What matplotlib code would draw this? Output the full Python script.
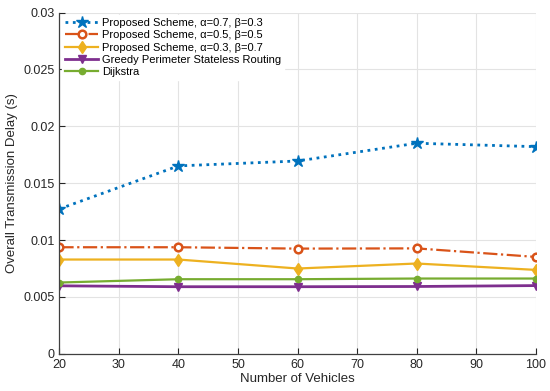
import matplotlib
matplotlib.use("Agg")
import matplotlib.pyplot as plt

plt.rcParams['font.family'] = ['Liberation Sans', 'DejaVu Sans']

vehicles = [20, 40, 60, 80, 100]
s1 = [0.01274, 0.01652, 0.01695, 0.01851, 0.01821]
s2 = [0.00937, 0.00937, 0.00925, 0.00927, 0.00852]
s3 = [0.00829, 0.00829, 0.00750, 0.00794, 0.00738]
gpsr = [0.00598, 0.00590, 0.00590, 0.00592, 0.00600]
dijkstra = [0.00627, 0.00656, 0.00656, 0.00662, 0.00662]

labels = ["Proposed Scheme, α=0.7, β=0.3",
          "Proposed Scheme, α=0.5, β=0.5",
          "Proposed Scheme, α=0.3, β=0.7",
          "Greedy Perimeter Stateless Routing",
          "Dijkstra"]
yticks = [0, 0.005, 0.01, 0.015, 0.02, 0.025, 0.03]
yticklabels = ["0", "0.005", "0.01", "0.015", "0.02", "0.025", "0.03"]
xticks = [20, 30, 40, 50, 60, 70, 80, 90, 100]

fig = plt.figure(figsize=(5.5, 3.91), dpi=100)
ax = fig.add_axes([0.108, 0.095, 0.866, 0.873])

ax.plot(vehicles, s1, linestyle=':', color='#0072BD', lw=2, marker='*', ms=9,
        label=labels[0])
ax.plot(vehicles, s2, linestyle='-.', color='#D95319', lw=1.6, marker='o', ms=5.5,
        mfc='white', mew=1.8, label=labels[1])
ax.plot(vehicles, s3, linestyle='-', color='#EDB120', lw=1.6, marker='d', ms=6,
        label=labels[2])
ax.plot(vehicles, gpsr, linestyle='-', color='#7E2F8E', lw=2, marker='v', ms=6,
        label=labels[3])
ax.plot(vehicles, dijkstra, linestyle='-', color='#77AC30', lw=1.6, marker='o', ms=4.5,
        label=labels[4])

ax.set_xlim(20, 100)
ax.set_ylim(0, 0.03)
ax.set_xticks(xticks)
ax.set_yticks(yticks)
ax.set_yticklabels(yticklabels)
ax.tick_params(direction='in', labelsize=9, colors='#262626', length=4)
ax.grid(True, color='#e3e3e3', lw=0.8)
ax.set_axisbelow(True)
for s in ['top', 'right']:
    ax.spines[s].set_visible(False)
for s in ['left', 'bottom']:
    ax.spines[s].set_color('#404040')
    ax.spines[s].set_linewidth(0.9)
ax.set_xlabel("Number of Vehicles", fontsize=9.5, color='#262626', labelpad=2)
ax.set_ylabel("Overall Transmission Delay (s)", fontsize=9.5, color='#262626', labelpad=4)

leg = ax.legend(loc='upper left', fontsize=8, frameon=True, framealpha=1,
                edgecolor='white', handlelength=3.0, borderpad=0.25,
                labelspacing=0.2, handletextpad=0.35, borderaxespad=0.25)

fig.savefig("out.png", dpi=100)
